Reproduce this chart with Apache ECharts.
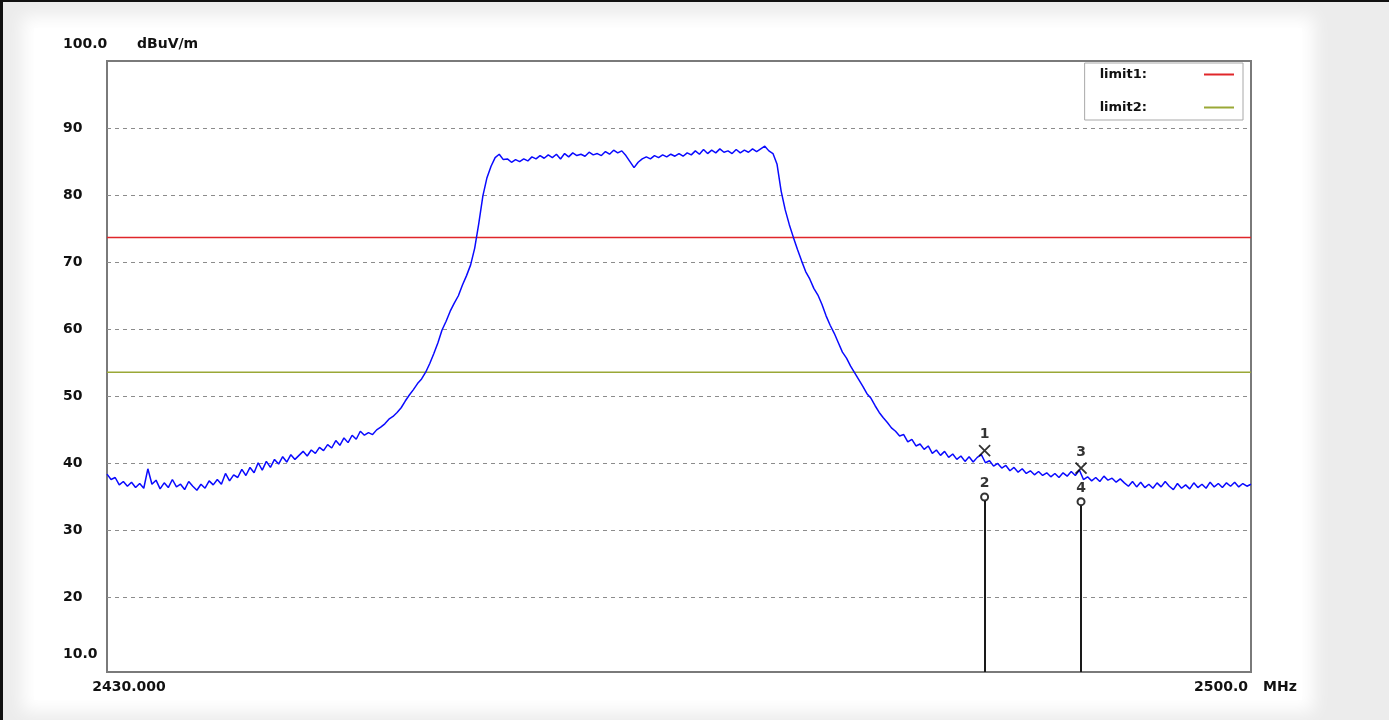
<!DOCTYPE html>
<html>
<head>
<meta charset="utf-8">
<title>Spectrum 2430-2500 MHz</title>
<script src="https://cdn.jsdelivr.net/npm/echarts@6/dist/echarts.min.js"></script>
<style>
  html, body { margin: 0; padding: 0; background: #ececec; }
  #stage { position: relative; width: 1389px; height: 720px; overflow: hidden; }
  #bg { position: absolute; left: 0; top: 0; width: 1389px; height: 720px; background: #ececec; }
  #panel { position: absolute; left: 34px; top: 28px; width: 1268px; height: 672px; background: #fff;
           box-shadow: 0 0 16px 12px #fff; }
  #frame { position: absolute; left: 0; top: 0; width: 1389px; height: 720px; box-sizing: border-box;
           border-top: 2px solid #111; border-left: 3px solid #111; pointer-events: none; z-index: 3; }
  #main { position: absolute; left: 0; top: 0; width: 1389px; height: 720px; z-index: 2; }
</style>
</head>
<body>
<div id="stage">
  <div id="bg"></div>
  <div id="panel"></div>
  <div id="main"></div>
  <div id="frame"></div>
</div>
<script>
// sweep: 2430 - 2500 MHz, one reading every 0.25 MHz
var freqStart = 2430;
var freqStep = 0.25;
var levels = [
  38.4, 37.6, 37.9, 36.8, 37.3, 36.6, 37.2, 36.4, 37.0, 36.3,
  39.2, 36.9, 37.5, 36.2, 37.1, 36.4, 37.6, 36.5, 36.9, 36.1,
  37.3, 36.6, 36.0, 36.9, 36.3, 37.4, 36.8, 37.6, 36.9, 38.5,
  37.4, 38.3, 37.9, 39.1, 38.2, 39.4, 38.6, 40.1, 39.0, 40.3,
  39.4, 40.6, 39.9, 41.0, 40.2, 41.3, 40.6, 41.2, 41.8, 41.1,
  42.0, 41.5, 42.4, 41.9, 42.8, 42.3, 43.4, 42.7, 43.8, 43.1,
  44.2, 43.6, 44.8, 44.2, 44.6, 44.3, 45.0, 45.4, 45.9, 46.6,
  47.0, 47.6, 48.3, 49.3, 50.2, 51.0, 51.9, 52.6, 53.6, 54.9,
  56.4, 58.0, 59.9, 61.2, 62.7, 63.9, 65.0, 66.6, 68.0, 69.6,
  72.1, 75.8, 79.9, 82.6, 84.3, 85.6, 86.1, 85.3, 85.4, 84.9,
  85.3, 85.0, 85.4, 85.1, 85.7, 85.4, 85.9, 85.5, 86.0, 85.6,
  86.1, 85.4, 86.2, 85.7, 86.3, 85.9, 86.1, 85.8, 86.4, 86.0,
  86.2, 85.9, 86.5, 86.1, 86.7, 86.3, 86.6, 85.9, 85.0, 84.1,
  84.9, 85.4, 85.7, 85.4, 85.9, 85.6, 86.0, 85.7, 86.1, 85.8,
  86.2, 85.8, 86.3, 86.0, 86.6, 86.1, 86.8, 86.2, 86.7, 86.3,
  86.9, 86.4, 86.6, 86.2, 86.8, 86.3, 86.7, 86.4, 86.9, 86.5,
  86.9, 87.3, 86.6, 86.2, 84.6, 80.6, 77.8, 75.6, 73.7, 71.9,
  70.2, 68.6, 67.5, 66.1, 65.1, 63.7, 62.0, 60.6, 59.4, 58.0,
  56.6, 55.7, 54.5, 53.5, 52.5, 51.5, 50.4, 49.7, 48.6, 47.6,
  46.8, 46.1, 45.3, 44.8, 44.1, 44.3, 43.2, 43.6, 42.6, 42.9,
  42.1, 42.6, 41.5, 42.0, 41.2, 41.8, 40.9, 41.4, 40.6, 41.1,
  40.3, 41.0, 40.2, 40.9, 41.3, 40.1, 40.4, 39.6, 40.0, 39.3,
  39.7, 38.9, 39.4, 38.7, 39.2, 38.5, 38.9, 38.3, 38.8, 38.2,
  38.6, 38.0, 38.5, 37.9, 38.6, 38.1, 38.8, 38.2, 39.0, 37.6,
  38.0, 37.4, 37.9, 37.3, 38.1, 37.5, 37.8, 37.2, 37.7, 37.1,
  36.6, 37.3, 36.5, 37.2, 36.4, 36.9, 36.3, 37.1, 36.5, 37.3,
  36.6, 36.1, 37.0, 36.3, 36.8, 36.2, 37.1, 36.4, 36.9, 36.3,
  37.2, 36.5, 37.0, 36.4, 37.1, 36.6, 37.2, 36.5, 37.0, 36.6,
  36.9
];

var limitNames = ['limit1:', 'limit2:'];
var limitValues = [73.7, 53.6];
var limitColors = ['#e0262a', '#9aa836'];

var markerFreqs = [2483.7, 2489.6];
var markerPeak = [41.9, 39.3];
var markerAvg = [35.0, 34.3];
var peakLabels = ['1', '3'];
var avgLabels = ['2', '4'];

var yMin = 8.9, yMax = 100;
var yLabelValues = [10, 20, 30, 40, 50, 60, 70, 80, 90, 100];
var yGridValues = [20, 30, 40, 50, 60, 70, 80, 90];
var xLabelValues = [2430, 2500];

var fontFam = '"DejaVu Sans", Verdana, sans-serif';

var trace = levels.map(function (v, i) {
  return [freqStart + i * freqStep, v];
});

var series = [{
  name: 'trace',
  type: 'line',
  data: trace,
  symbol: 'none',
  z: 4,
  lineStyle: { color: '#0a0aff', width: 1.5 },
  silent: true
}];

limitNames.forEach(function (n, i) {
  series.push({
    name: n,
    type: 'line',
    data: [[freqStart, limitValues[i]], [2500, limitValues[i]]],
    symbol: 'none',
    color: limitColors[i],
    lineStyle: { color: limitColors[i], width: 1.5 },
    z: 3,
    silent: true
  });
});

// peak markers (X) with numbers above
series.push({
  name: 'peak',
  type: 'scatter',
  symbol: 'path://M0,0L10,10M10,0L0,10',
  symbolSize: 11,
  z: 6,
  itemStyle: { color: 'none', borderColor: '#000', borderWidth: 1.8 },
  label: {
    show: true, position: 'top', distance: 1,
    fontFamily: fontFam, fontWeight: 'bold', fontSize: 14, color: '#000',
    formatter: function (p) { return peakLabels[p.dataIndex]; }
  },
  data: markerFreqs.map(function (f, i) { return [f, markerPeak[i]]; })
});

// average markers (o) with numbers above and a drop line to the axis
series.push({
  name: 'avg',
  type: 'scatter',
  symbol: 'circle',
  symbolSize: 7,
  z: 6,
  itemStyle: { color: '#fff', borderColor: '#000', borderWidth: 2 },
  label: {
    show: true, position: 'top', distance: 2,
    fontFamily: fontFam, fontWeight: 'bold', fontSize: 14, color: '#000',
    formatter: function (p) { return avgLabels[p.dataIndex]; }
  },
  data: markerFreqs.map(function (f, i) { return [f, markerAvg[i]]; }),
  markLine: {
    silent: true,
    symbol: ['none', 'none'],
    animation: false,
    label: { show: false },
    lineStyle: { color: '#1a1a1a', width: 2, type: 'solid' },
    data: markerFreqs.map(function (f, i) {
      return [{ coord: [f, markerAvg[i] - 0.6] }, { coord: [f, yMin] }];
    })
  }
});

var myChart = echarts.init(document.getElementById('main'), null, { renderer: 'canvas' });
myChart.setOption({
  animation: false,
  backgroundColor: 'transparent',
  grid: {
    left: 107, top: 61, right: 138, bottom: 48,
    show: true, backgroundColor: '#fff',
    borderColor: '#7a7a7a', borderWidth: 2
  },
  legend: {
    data: limitNames,
    orient: 'vertical',
    right: 146, top: 63,
    align: 'right',
    itemWidth: 30, itemHeight: 14, itemGap: 20,
    padding: [5, 8, 6, 15],
    backgroundColor: '#fff',
    borderColor: '#a8a8a8', borderWidth: 1,
    selectedMode: false,
    itemStyle: { opacity: 0 },
    textStyle: { fontFamily: fontFam, fontWeight: 'bold', fontSize: 13, color: '#111',
                 padding: [0, 52, 0, 0] }
  },
  xAxis: {
    type: 'value',
    min: 2430, max: 2500,
    name: 'MHz', nameLocation: 'end', nameGap: 12,
    nameTextStyle: { fontFamily: fontFam, fontWeight: 'bold', fontSize: 14, color: '#111',
                     verticalAlign: 'top', padding: [8, 0, 0, 0] },
    axisLine: { show: false },
    axisTick: { show: false },
    splitLine: { show: false },
    axisLabel: {
      customValues: xLabelValues,
      margin: 8,
      fontFamily: fontFam, fontWeight: 'bold', fontSize: 14, color: '#111',
      formatter: function (v) { return v === 2430 ? '{l|2430.000}' : '{r|2500.0}'; },
      rich: {
        l: { fontFamily: fontFam, fontWeight: 'bold', fontSize: 14, color: '#111', padding: [0, 0, 0, 44] },
        r: { fontFamily: fontFam, fontWeight: 'bold', fontSize: 14, color: '#111', padding: [0, 60, 0, 0] }
      }
    }
  },
  yAxis: {
    type: 'value',
    min: yMin, max: yMax,
    name: 'dBuV/m', nameLocation: 'end', nameGap: 17,
    nameTextStyle: { fontFamily: fontFam, fontWeight: 'bold', fontSize: 14, color: '#111',
                     align: 'left', verticalAlign: 'middle', padding: [0, 0, 0, 30] },
    axisLine: { show: false },
    axisTick: { show: false, customValues: yGridValues },
    splitLine: { show: true, lineStyle: { color: '#8c8c8c', width: 1, type: [4, 4] } },
    axisLabel: {
      customValues: yLabelValues,
      align: 'left', margin: 44,
      fontFamily: fontFam, fontWeight: 'bold', fontSize: 14, color: '#111',
      formatter: function (v) {
        if (v === 100) return '{t|100.0}';
        if (v === 10) return '{b|10.0}';
        return String(v);
      },
      rich: {
        t: { fontFamily: fontFam, fontWeight: 'bold', fontSize: 14, color: '#111', padding: [0, 0, 34, 0] },
        b: { fontFamily: fontFam, fontWeight: 'bold', fontSize: 14, color: '#111', padding: [0, 0, 20, 0] }
      }
    }
  },
  series: series
});
</script>
</body>
</html>
